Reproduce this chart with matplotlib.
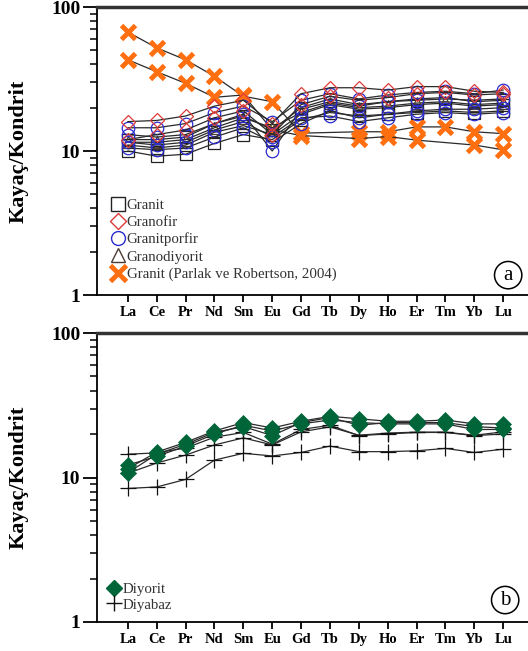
import numpy as np
import matplotlib
matplotlib.use("Agg")
import matplotlib.pyplot as plt
from matplotlib.lines import Line2D

plt.rcParams['font.family'] = ['Liberation Serif', 'DejaVu Serif']

elements = ['La', 'Ce', 'Pr', 'Nd', 'Sm', 'Eu', 'Gd', 'Tb', 'Dy', 'Ho', 'Er', 'Tm', 'Yb', 'Lu']

# panel a - granitic rocks, chondrite normalised
granit = [
    [10.0, 9.2, 9.5, 11.3, 13.0, 12.0, 16.5, 18.5, 17.5, 18.0, 18.5, 19.0, 18.5, 19.0],
    [11.0, 10.5, 11.0, 13.5, 15.0, 13.0, 18.0, 21.0, 19.5, 20.0, 21.0, 21.5, 20.5, 21.0],
    [12.0, 12.0, 12.5, 15.5, 17.5, 14.0, 20.0, 23.0, 21.0, 22.0, 23.0, 23.5, 22.0, 22.5],
]
granofir = [
    [16.0, 16.3, 17.5, 20.5, 22.5, 15.5, 25.0, 27.5, 27.5, 26.5, 28.0, 28.0, 26.0, 25.5],
    [12.0, 13.0, 14.0, 17.0, 19.0, 13.0, 21.0, 24.0, 22.5, 23.5, 25.0, 25.5, 24.5, 25.0],
]
granitporfir = [
    [14.5, 14.5, 15.5, 18.5, 20.5, 16.0, 22.5, 25.0, 23.0, 24.5, 25.5, 26.0, 25.0, 26.5],
    [13.0, 12.5, 13.0, 15.5, 18.0, 10.0, 19.5, 22.0, 20.5, 22.0, 22.5, 23.0, 22.5, 23.0],
    [11.5, 11.0, 11.5, 14.0, 16.0, 12.5, 17.0, 17.5, 16.0, 17.0, 18.0, 18.5, 18.0, 18.5],
    [10.5, 10.2, 10.5, 12.5, 14.5, 11.5, 15.5, 19.0, 17.0, 18.0, 19.0, 19.5, 19.5, 20.0],
]
granodiyorit = [
    [11.5, 11.5, 12.0, 14.5, 17.0, 14.5, 18.5, 21.5, 20.0, 20.5, 21.5, 22.0, 21.0, 21.5],
]
parlak = [
    [67.0, 52.0, 43.0, 33.0, 24.0, 22.0, 13.3, np.nan, 13.6, 13.6, 14.7, 14.7, 13.6, 13.2],
    [43.0, 35.5, 29.5, 23.6, 24.5, 14.0, 12.8, np.nan, 12.2, 12.6, 11.9, np.nan, 11.0, 10.2],
]

# panel b - mafic rocks
diyorit = [
    [11.5, 15.0, 17.5, 21.0, 24.0, 22.0, 24.5, 26.5, 25.5, 24.5, 24.5, 25.0, 23.5, 23.5],
    [10.8, 14.5, 17.0, 20.5, 22.5, 19.5, 24.0, 26.0, 23.0, 24.0, 24.0, 24.0, 22.5, 22.0],
    [12.2, 14.0, 16.5, 20.0, 23.0, 21.0, 23.5, 25.0, 24.0, 23.5, 23.5, 23.5, 21.5, 21.5],
]
diyabaz = [
    [8.4, 8.6, 9.7, 13.2, 14.7, 14.1, 14.9, 16.5, 15.1, 15.1, 15.3, 15.9, 14.9, 15.7],
    [14.5, 14.8, 16.0, 19.0, 20.5, 17.0, 21.5, 23.0, 19.5, 20.0, 20.5, 20.5, 19.5, 20.0],
    [10.7, 12.6, 14.3, 16.8, 18.8, 16.8, 20.7, 22.4, 19.6, 20.3, 20.6, 20.6, 19.6, 20.7],
]

x = np.arange(len(elements))
LINE = '#2a2a2a'
ORANGE = '#ff6f0f'
GREEN = '#00663a'


def draw(ax, series, **style):
    for s in series:
        s = np.array(s, dtype=float)
        ok = ~np.isnan(s)
        ax.plot(x[ok], s[ok], color=LINE, lw=0.9, **style)


def setup(ax):
    ax.set_yscale('log')
    ax.set_ylim(1, 100)
    ax.set_xlim(-1.07, 13.86)
    ax.set_xticks(x)
    ax.set_xticklabels(elements, fontsize=10.5, fontweight='bold')
    ax.set_yticks([1, 10, 100])
    ax.set_yticklabels(['1', '10', '100'], fontsize=14, fontweight='bold')
    ax.yaxis.set_minor_formatter(matplotlib.ticker.NullFormatter())
    ax.tick_params(axis='y', which='major', direction='out', length=10, width=1.3, pad=2)
    ax.tick_params(axis='y', which='minor', direction='out', length=5, width=1.1)
    ax.tick_params(axis='x', which='major', direction='out', length=5, width=1.3, pad=3)
    ax.spines['right'].set_visible(False)
    ax.spines['top'].set_linewidth(2.5)
    ax.spines['top'].set_color('#333333')
    ax.spines['left'].set_linewidth(1.3)
    ax.spines['bottom'].set_linewidth(1.3)
    ax.set_ylabel('Kayaç/Kondrit', fontsize=16, fontweight='bold', labelpad=16)


fig = plt.figure(figsize=(5.28, 6.51), dpi=100)
ax1 = fig.add_axes([97 / 528, 1 - 295 / 651, 1 - 97 / 528, 288 / 651])
ax2 = fig.add_axes([97 / 528, 1 - 622 / 651, 1 - 97 / 528, 289 / 651])

setup(ax1)
draw(ax1, parlak, marker='x', ms=10, mec=ORANGE, mew=3.5)
draw(ax1, granit, marker='s', ms=9, mfc='none', mec='#222222', mew=0.9)
draw(ax1, granodiyorit, marker='^', ms=8, mfc='none', mec='#4d3b33', mew=0.9)
draw(ax1, granitporfir, marker='o', ms=9, mfc='none', mec='#2a2ad0', mew=0.9)
draw(ax1, granofir, marker='D', ms=7, mfc='none', mec='#dd3b3b', mew=0.9)

h1 = [
    Line2D([], [], ls='none', marker='s', ms=10, mfc='none', mec='#222222', mew=1.0),
    Line2D([], [], ls='none', marker='D', ms=8, mfc='none', mec='#dd3b3b', mew=1.0),
    Line2D([], [], ls='none', marker='o', ms=10, mfc='none', mec='#2a2ad0', mew=1.0),
    Line2D([], [], ls='none', marker='^', ms=10, mfc='none', mec='#4d3b33', mew=1.0),
    Line2D([], [], ls='none', marker='x', ms=11, mec=ORANGE, mew=3.5),
]
lab1 = ['Granit', 'Granofir', 'Granitporfir', 'Granodiyorit', 'Granit (Parlak ve Robertson, 2004)']
leg = ax1.legend(h1, lab1, loc='lower left', bbox_to_anchor=(0.0, 0.0), frameon=False,
                 fontsize=10.7, handlelength=0.9, handletextpad=0.15, labelspacing=0.25,
                 borderaxespad=0.55)
for t in leg.get_texts():
    t.set_color('#333333')
ax1.text(0.954, 0.069, 'a', transform=ax1.transAxes, ha='center', va='center', fontsize=15,
         bbox=dict(boxstyle='circle,pad=0.2', fc='white', ec='black', lw=1.1))

setup(ax2)
draw(ax2, diyabaz, marker='+', ms=11, mec='#111111', mew=0.9)
draw(ax2, diyorit, marker='D', ms=8, mfc=GREEN, mec=GREEN, mew=0.5)

h2 = [
    Line2D([], [], ls='none', marker='D', ms=8, mfc=GREEN, mec=GREEN),
    Line2D([], [], ls='none', marker='+', ms=11, mec='#111111', mew=1.0),
]
leg2 = ax2.legend(h2, ['Diyorit', 'Diyabaz'], loc='lower left', bbox_to_anchor=(0.0, 0.0),
                  frameon=False, fontsize=10.7, handlelength=0.9, handletextpad=0.15,
                  labelspacing=0.15, borderaxespad=0.3)
for t in leg2.get_texts():
    t.set_color('#333333')
ax2.text(0.947, 0.076, 'b', transform=ax2.transAxes, ha='center', va='center', fontsize=15,
         bbox=dict(boxstyle='circle,pad=0.2', fc='white', ec='black', lw=1.1))

fig.savefig('out.png', dpi=100)
